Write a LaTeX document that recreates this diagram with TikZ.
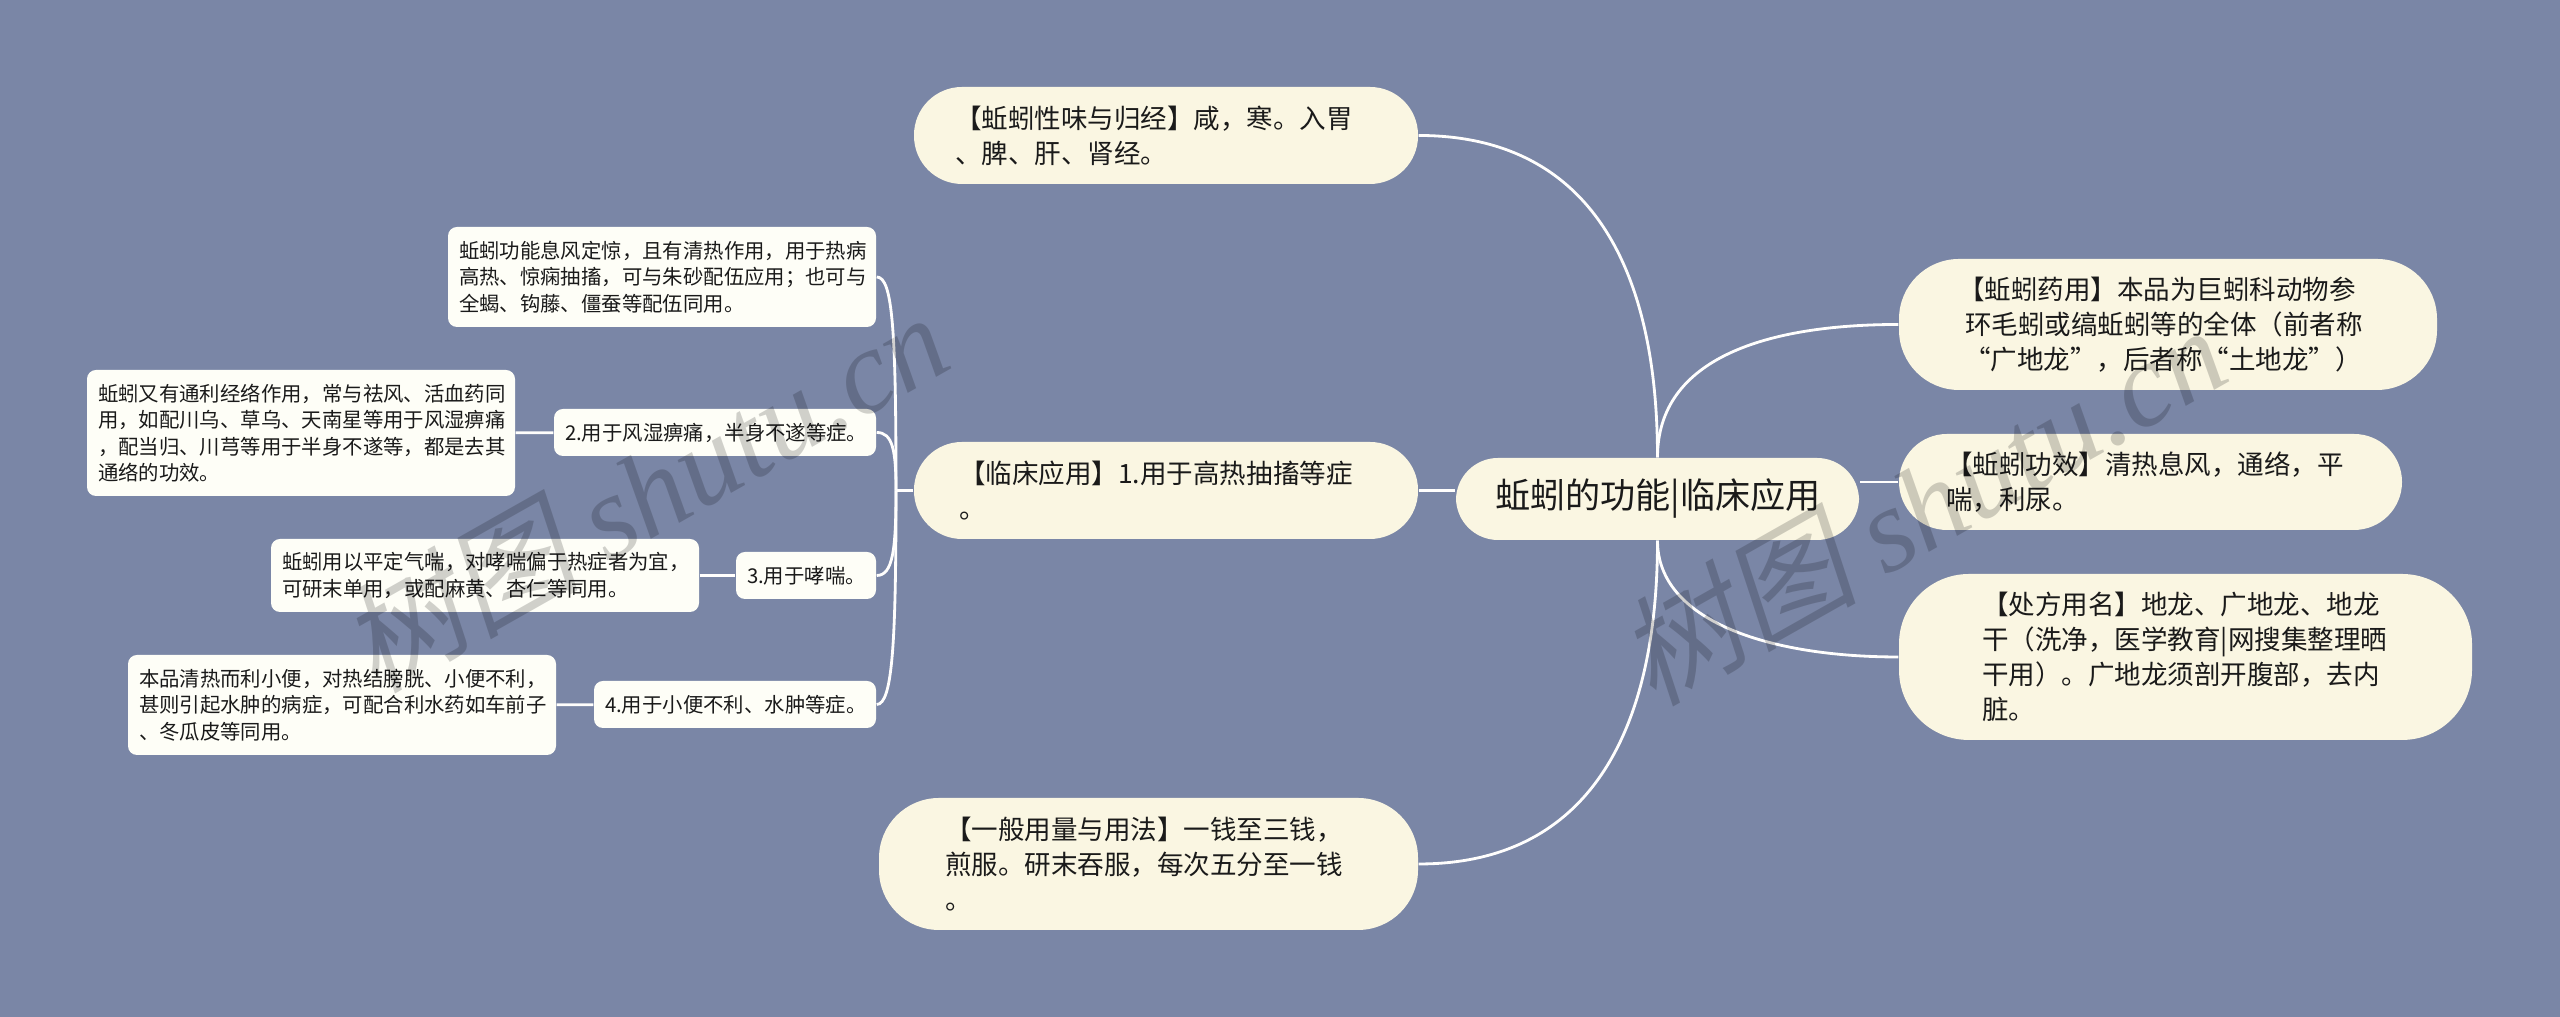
\documentclass[tikz,border=0pt]{standalone}
\usepackage{fontspec}
\setmainfont{Noto Sans CJK SC}
\newfontfamily\markfont{Liberation Serif}
\newfontfamily\markcjk[FakeSlant=.2]{Noto Sans CJK SC}
\definecolor{slatebg}{RGB}{122,134,166}
\definecolor{creamy}{RGB}{250,246,226}
\definecolor{paper}{RGB}{254,254,247}
\definecolor{inktext}{RGB}{26,26,26}

\begin{document}
\begin{tikzpicture}
\tikzset{pill/.style = {shape=rectangle,fill=creamy,text=inktext,rounded corners=.48cm,align=left,inner ysep=0pt,font=\fontsize{7.55}{10}\selectfont}}
\tikzset{leaf/.style = {shape=rectangle,fill=paper,text=inktext,rounded corners=.09cm,align=left,inner ysep=0pt,inner xsep=.11cm,font=\fontsize{5.8}{7.5}\selectfont}}
\tikzset{edge/.style = {draw=white!92!creamy,line width=.8pt}}
\tikzset{stamp/.style = {text=black,text opacity=.18,rotate=29.5,font=\fontsize{34}{40}\selectfont}}

\useasboundingbox (0,0) rectangle (25.6,10.17);
\fill[slatebg] (0,0) rectangle (25.6,10.17);

\node[pill,rounded corners=.42cm,inner xsep=.39cm,text width=3.25cm,minimum height=.82cm,font=\fontsize{10}{12}\selectfont] (root) at (16.575,5.18) {\raisebox{-.03cm}{蚯蚓的功能|临床应用}};

\node[pill,inner xsep=.41cm,text width=4.22cm,minimum height=.97cm] (xingwei) at (11.66,8.815) {【蚯蚓性味与归经】咸，寒。入胃\\、脾、肝、肾经。};
\node[pill,inner xsep=.45cm,text width=4.14cm,minimum height=.97cm] (linchuang) at (11.66,5.265) {【临床应用】1.用于高热抽搐等症\\。};
\node[pill,rounded corners=.6cm,inner xsep=.66cm,text width=4.07cm,minimum height=1.32cm] (yongfa) at (11.485,1.53) {【一般用量与用法】一钱至三钱，\\煎服。研末吞服，每次五分至一钱\\。};

\node[pill,rounded corners=.6cm,inner xsep=.43cm,text width=4.52cm,minimum height=1.31cm] (yaoyong) at (21.68,6.925) {\hspace*{.16cm}【蚯蚓药用】本品为巨蚓科动物参\\\hspace*{.23cm}环毛蚓或缟蚯蚓等的全体（前者称\\\hspace*{.22cm}“广地龙”，后者称“土地龙”）};
\node[pill,inner xsep=.47cm,text width=4.09cm,minimum height=.96cm] (gongxiao) at (21.505,5.35) {【蚯蚓功效】清热息风，通络，平\\喘，利尿。};
\node[pill,rounded corners=.7cm,inner xsep=.83cm,text width=4.07cm,minimum height=1.66cm] (chufang) at (21.855,3.60) {【处方用名】地龙、广地龙、地龙\\干（洗净，医学教育|网搜集整理晒\\干用）。广地龙须剖开腹部，去内\\脏。};

\node[leaf,text width=4.06cm,minimum height=1cm] (detailA) at (6.62,7.40) {蚯蚓功能息风定惊，且有清热作用，用于热病\\高热、惊痫抽搐，可与朱砂配伍应用；也可与\\全蝎、钩藤、僵蚕等配伍同用。};
\node[leaf,text width=4.06cm,minimum height=1.26cm] (detailB) at (3.01,5.84) {蚯蚓又有通利经络作用，常与祛风、活血药同\\用，如配川乌、草乌、天南星等用于风湿痹痛\\，配当归、川芎等用于半身不遂等，都是去其\\通络的功效。};
\node[leaf,text width=3.0cm,minimum height=.47cm] (useB) at (7.15,5.845) {2.用于风湿痹痛，半身不遂等症。};
\node[leaf,text width=4.06cm,minimum height=.73cm] (detailC) at (4.85,4.415) {蚯蚓用以平定气喘，对哮喘偏于热症者为宜，\\可研末单用，或配麻黄、杏仁等同用。};
\node[leaf,text width=1.18cm,minimum height=.47cm] (useC) at (8.06,4.415) {3.用于哮喘。};
\node[leaf,text width=4.06cm,minimum height=1cm] (detailD) at (3.42,3.12) {本品清热而利小便，对热结膀胱、小便不利，\\甚则引起水肿的病症，可配合利水药如车前子\\、冬瓜皮等同用。};
\node[leaf,text width=2.6cm,minimum height=.47cm] (useD) at (7.35,3.125) {4.用于小便不利、水肿等症。};

\coordinate (hub) at (8.96,5.265);

%edges
\draw[edge] (root.north) .. controls +(0,1.88) and +(1.72,0) .. (xingwei.east);
\draw[edge] (root.south) .. controls +(0,-1.88) and +(1.72,0) .. (yongfa.east);
\draw[edge] (root.north) .. controls +(0,1.0) and +(-1.3,0) .. (yaoyong.west);
\draw[edge] (root.south) .. controls +(0,-.8) and +(-1.3,0) .. (chufang.west);
\draw[edge] (gongxiao.west) -- (gongxiao.west -| root.east);
\draw[edge] (linchuang.east) -- (linchuang.east -| root.west);

\draw[edge] (linchuang.west) -- (hub);
\draw[edge] (hub) .. controls +(0,1.6) and +(.16,0) .. (detailA.east);
\draw[edge] (hub) .. controls +(0,.4) and +(.16,0) .. (useB.east);
\draw[edge] (hub) .. controls +(0,-.6) and +(.16,0) .. (useC.east);
\draw[edge] (hub) .. controls +(0,-1.5) and +(.16,0) .. (useD.east);
\draw[edge] (detailB) -- (useB);
\draw[edge] (detailC) -- (useC);
\draw[edge] (detailD) -- (useD);

\node[stamp] (markleft) at (6.44,5.26) {{\markcjk 树图} {\markfont\itshape shutu.cn}};
\node[stamp] (markright) at (19.22,5.13) {{\markcjk 树图} {\markfont\itshape shutu.cn}};

\end{tikzpicture}
\end{document}
